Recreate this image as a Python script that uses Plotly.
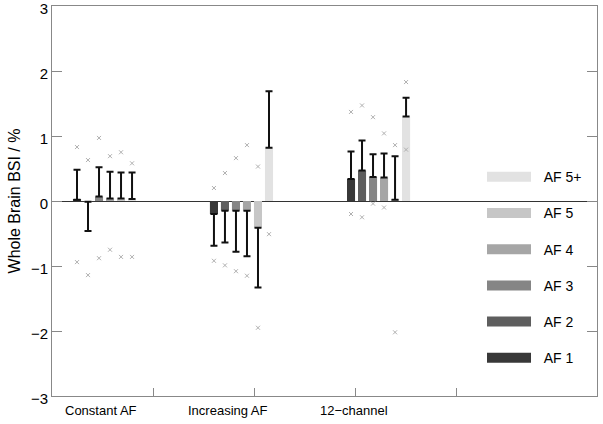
import plotly.graph_objects as go

groups = ["Constant AF", "Increasing AF", "12\u2212channel"]
series = ["AF 1", "AF 2", "AF 3", "AF 4", "AF 5", "AF 5+"]

# mean BSI (%) per series, per group
means = {
    "AF 1": [0.02, -0.20, 0.34],
    "AF 2": [-0.01, -0.15, 0.47],
    "AF 3": [0.07, -0.15, 0.37],
    "AF 4": [0.04, -0.15, 0.36],
    "AF 5": [0.04, -0.41, 0.02],
    "AF 5+": [0.03, 0.82, 1.30],
}
# error bar tip values
err_tips = {
    "AF 1": [0.48, -0.69, 0.76],
    "AF 2": [-0.46, -0.64, 0.93],
    "AF 3": [0.52, -0.78, 0.72],
    "AF 4": [0.45, -0.85, 0.73],
    "AF 5": [0.44, -1.33, 0.69],
    "AF 5+": [0.44, 1.69, 1.59],
}
# individual extreme values (max / min)
max_vals = {
    "AF 1": [0.83, 0.20, 1.37],
    "AF 2": [0.63, 0.43, 1.47],
    "AF 3": [0.97, 0.66, 1.29],
    "AF 4": [0.69, 0.86, 1.04],
    "AF 5": [0.75, 0.53, 0.86],
    "AF 5+": [0.58, None, 1.83],
}
min_vals = {
    "AF 1": [-0.94, -0.92, -0.20],
    "AF 2": [-1.14, -0.99, -0.25],
    "AF 3": [-0.88, -1.08, -0.04],
    "AF 4": [-0.75, -1.15, -0.10],
    "AF 5": [-0.86, -1.95, -2.02],
    "AF 5+": [-0.86, -0.51, 0.79],
}
colors = ["#383838", "#5e5e5e", "#858585", "#a6a6a6", "#c6c6c6", "#e2e2e2"]

group_centers = [0.52, 1.876, 3.233]
label_pos = [0.485, 1.743, 2.99]
bar_step = 0.109
bar_width = 0.08

fig = go.Figure()

for i, name in enumerate(series):
    xs = [c + (i - 2.5) * bar_step for c in group_centers]
    m = means[name]
    tips = err_tips[name]
    up = [max(t - v, 0) for v, t in zip(m, tips)]
    down = [max(v - t, 0) for v, t in zip(m, tips)]
    fig.add_trace(go.Bar(
        x=xs, y=m, width=bar_width, name=name,
        marker=dict(color=colors[i], line=dict(width=0)),
        error_y=dict(type="data", symmetric=False, array=up, arrayminus=down,
                     color="#111111", thickness=2, width=3.5),
        showlegend=False,
    ))

for i, name in enumerate(series):
    xs = [c + (i - 2.5) * bar_step for c in group_centers]
    px, py = [], []
    for x, a, b in zip(xs, max_vals[name], min_vals[name]):
        for v in (a, b):
            if v is not None:
                px.append(x)
                py.append(v)
    fig.add_trace(go.Scatter(
        x=px, y=py, mode="markers", showlegend=False, hoverinfo="skip",
        marker=dict(symbol="x-thin", size=4, line=dict(width=1, color="#b0b0b0"),
                    color="#b0b0b0"),
    ))

# legend entries (top to bottom: AF 5+ ... AF 1)
for i in reversed(range(len(series))):
    name = series[i]
    fig.add_trace(go.Scatter(
        x=[None], y=[None], mode="lines", name="\u00a0\u00a0" + name,
        legendgroup=name, line=dict(color=colors[i], width=10),
    ))

for lbl, xp in zip(groups, label_pos):
    fig.add_annotation(x=xp, y=0, xref="x", yref="paper", text=lbl,
                       showarrow=False, yanchor="top", yshift=-5,
                       font=dict(size=13, color="#000000"))

fig.update_layout(
    width=603, height=424,
    margin=dict(l=52, r=6, t=6, b=28),
    paper_bgcolor="white", plot_bgcolor="white",
    font=dict(family="Liberation Sans, Arial, sans-serif", size=13, color="#000000"),
    barmode="overlay",
    showlegend=True,
    legend=dict(x=0.789, y=0.329, xanchor="left", yanchor="middle",
                traceorder="grouped", tracegroupgap=15,
                itemwidth=44, bgcolor="rgba(0,0,0,0)",
                font=dict(size=14, color="#000000")),
    xaxis=dict(range=[0, 5.396], tickvals=[1, 2, 3, 4], ticktext=["", "", "", ""],
               ticks="inside", ticklen=8, tickcolor="#888888",
               showline=True, linecolor="#888888", linewidth=1, mirror=True,
               showgrid=False, zeroline=False, automargin=False),
    yaxis=dict(range=[-3, 3], tickvals=[-3, -2, -1, 0, 1, 2, 3],
               ticktext=["\u22123", "\u22122", "\u22121", "0", "1", "2", "3"],
               ticks="inside", ticklen=10, tickcolor="#888888",
               showline=True, linecolor="#888888", linewidth=1, mirror="ticks",
               showgrid=False, zeroline=True, zerolinecolor="#333333", zerolinewidth=1,
               title=dict(text="Whole Brain BSI / %", standoff=6, font=dict(size=16)),
               tickfont=dict(size=15), automargin=False, ticklabeloverflow="allow",
               ticklabelshift=3),
)

fig.write_html("out.html", config={"displayModeBar": False},
               post_script="document.body.style.margin='0';")
